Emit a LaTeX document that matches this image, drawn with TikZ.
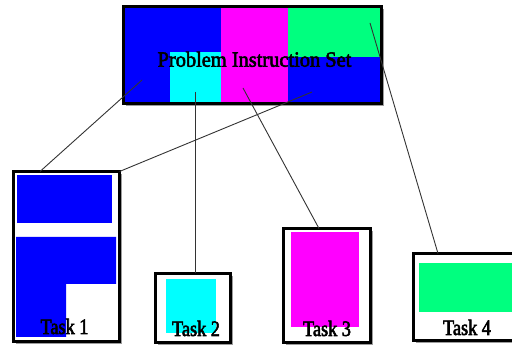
\documentclass[tikz,border=0pt]{standalone}
\usepackage{fontspec}
\setmainfont{Liberation Serif}
\newfontfamily\titlefont[FakeStretch=0.94, FakeBold=2.5]{Liberation Serif}
\newfontfamily\taskfont[FakeStretch=0.83, FakeBold=2.5]{Liberation Serif}
\usetikzlibrary{shadows}
\definecolor{pblue}{RGB}{0,0,255}
\definecolor{pcyan}{RGB}{0,255,255}
\definecolor{pmagenta}{RGB}{255,0,255}
\definecolor{pgreen}{RGB}{0,255,127}
\tikzset{
  framebox/.style={draw=black, line width=3pt, fill=white, inner sep=0pt, outer sep=0pt,
    anchor=north west,
    drop shadow={shadow xshift=2.5pt, shadow yshift=-2.5pt, fill=black!55, opacity=0.7}},
  link/.style={draw=black!80, line width=0.9pt},
  tasklabel/.style={anchor=base, inner sep=0pt, font=\taskfont\fontsize{22}{22}\selectfont},
  titlelabel/.style={anchor=base, inner sep=0pt, font=\titlefont\fontsize{21.7}{22}\selectfont}
}
\begin{document}
\begin{tikzpicture}[x=1pt, y=-1pt]
\useasboundingbox (0,0) rectangle (512,347);
\clip (0,0) rectangle (512,347);

% instruction set block
\node[framebox, minimum width=258pt, minimum height=97pt] (top) at (123.5,6.5) {};
\fill[pblue]    (125,8)   rectangle (221,102);
\fill[pcyan]    (170,52)  rectangle (221,102);
\fill[pmagenta] (221,8)   rectangle (288,102);
\fill[pgreen]   (288,8)   rectangle (380,57);
\fill[pblue]    (288,57)  rectangle (380,102);
\node[titlelabel] (title) at (254.5,66.7) {Problem Instruction Set};

% task blocks
\node[framebox, minimum width=106pt, minimum height=170pt] (t1) at (13.5,171.5) {};
\fill[pblue] (17,175) rectangle (112,223);
\fill[pblue] (16,237) -- (116,237) -- (116,284) -- (66,284) -- (66,337) -- (16,337) -- cycle;
\node[tasklabel] (l1) at (64.5,334) {Task 1};

\node[framebox, minimum width=75pt, minimum height=69pt] (t2) at (155.5,273.5) {};
\fill[pcyan] (166,279) rectangle (216,333);
\node[tasklabel] (l2) at (196,336) {Task 2};

\node[framebox, minimum width=87pt, minimum height=114pt] (t3) at (283.5,228.5) {};
\fill[pmagenta] (291,232) rectangle (359,327);
\node[tasklabel] (l3) at (327,336) {Task 3};

\node[framebox, minimum width=120pt, minimum height=87pt] (t4) at (413.5,253.5) {};
\fill[pgreen] (419,263) rectangle (512,312);
\node[tasklabel] (l4) at (467,335) {Task 4};

% connectors from the instruction set to the tasks
\coordinate (s1) at (142,80);
\coordinate (s2) at (312,92);
\coordinate (s3) at (195,92);
\coordinate (s4) at (243,88);
\coordinate (s5) at (370,23);
\draw[link] (s1) -- ([xshift=26.5pt]t1.north west);
\draw[link] (s2) -- (t1.north east);
\draw[link] (s3) -- ([xshift=39.5pt]t2.north west);
\draw[link] (s4) -- ([xshift=35.5pt]t3.north west);
\draw[link] (s5) -- ([xshift=24.5pt]t4.north west);
\end{tikzpicture}
\end{document}
